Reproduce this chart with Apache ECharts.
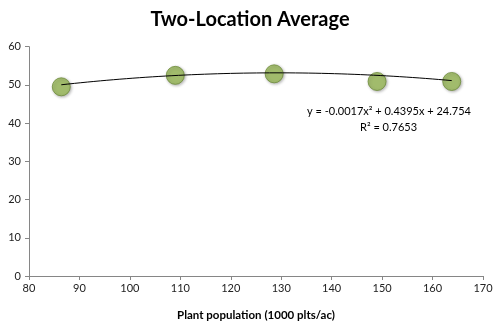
<!DOCTYPE html>
<html>
<head>
<meta charset="utf-8">
<script src="https://cdn.jsdelivr.net/npm/echarts@6/dist/echarts.min.js"></script>
<style>
  html, body { margin: 0; padding: 0; background: #fff; }
  #chart { width: 500px; height: 326px; }
</style>
</head>
<body>
<div id="chart"></div>
<script>
// Plant population (1000 plants/acre) and average yield across two locations
const population = [86.4, 109.0, 128.6, 149.0, 163.8];
const yieldAvg = [49.5, 52.5, 52.9, 50.9, 50.9];

// Second-order polynomial trendline coefficients: a*x^2 + b*x + c
const trendCoef = [-0.0017, 0.4395, 24.754];
const trendR2 = 0.7653;

const xTicks = [80, 90, 100, 110, 120, 130, 140, 150, 160, 170];
const yTicks = [0, 10, 20, 30, 40, 50, 60];

// Trendline curve evaluated over the span of the observed populations
const trendLine = [];
const steps = 60;
const x0 = population[0], x1 = population[population.length - 1];
for (let i = 0; i <= steps; i++) {
  const x = x0 + (x1 - x0) * i / steps;
  trendLine.push([x, trendCoef[0] * x * x + trendCoef[1] * x + trendCoef[2]]);
}

const font = 'Lato, "Open Sans", sans-serif';
const chart = echarts.init(document.getElementById('chart'), null, { renderer: 'canvas' });

chart.setOption({
  backgroundColor: '#ffffff',
  animation: false,
  title: {
    text: 'Two-Location Average',
    left: 'center',
    top: 5,
    textStyle: { fontFamily: font, fontWeight: 'bold', fontSize: 20, color: '#000' }
  },
  grid: { left: 29, right: 17, top: 46.7, bottom: 47.7 },
  xAxis: {
    type: 'value',
    min: xTicks[0],
    max: xTicks[xTicks.length - 1],
    interval: 10,
    name: 'Plant population (1000 plts/ac)',
    nameLocation: 'middle',
    nameGap: 33,
    nameTextStyle: { fontFamily: font, fontWeight: 'bold', fontSize: 11.5, color: '#000' },
    axisLine: { lineStyle: { color: '#868686', width: 1 } },
    axisTick: { show: true, length: 4, lineStyle: { color: '#868686' } },
    axisLabel: { fontFamily: font, fontSize: 11, color: '#222', margin: 7 },
    splitLine: { show: false }
  },
  yAxis: {
    type: 'value',
    min: yTicks[0],
    max: yTicks[yTicks.length - 1],
    interval: 10,
    axisLine: { show: true, lineStyle: { color: '#868686', width: 1 } },
    axisTick: { show: true, length: 4, lineStyle: { color: '#868686' } },
    axisLabel: { fontFamily: font, fontSize: 11, color: '#222', margin: 8 },
    splitLine: { show: false }
  },
  series: [
    {
      type: 'line',
      data: trendLine,
      showSymbol: false,
      smooth: false,
      lineStyle: { color: '#000', width: 1 },
      z: 3
    },
    {
      type: 'scatter',
      data: population.map((x, i) => [x, yieldAvg[i]]),
      symbolSize: 18,
      itemStyle: {
        color: '#9BBB59',
        borderColor: '#6E8C3A',
        borderWidth: 1,
        shadowBlur: 3,
        shadowOffsetX: 1,
        shadowOffsetY: 1,
        shadowColor: 'rgba(0,0,0,0.35)'
      },
      z: 2
    }
  ],
  graphic: [
    {
      type: 'text',
      left: 307,
      top: 106,
      style: {
        text: 'y = ' + trendCoef[0] + 'x\u00B2 + ' + trendCoef[1] + 'x + ' + trendCoef[2],
        font: '11px ' + font,
        fill: '#000'
      }
    },
    {
      type: 'text',
      left: 360,
      top: 122,
      style: {
        text: 'R\u00B2 = ' + trendR2,
        font: '11px ' + font,
        fill: '#000'
      }
    }
  ]
});
</script>
</body>
</html>
